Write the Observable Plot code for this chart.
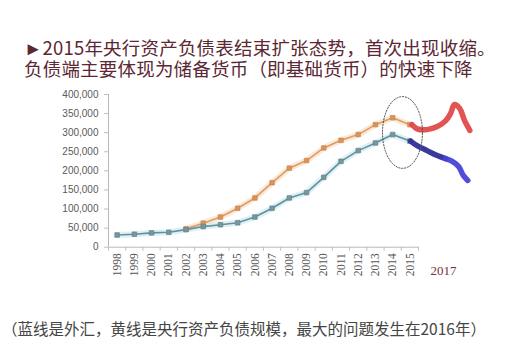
<!DOCTYPE html>
<html>
<head>
<meta charset="utf-8">
<script src="https://cdn.jsdelivr.net/npm/d3@7"></script>
<script src="https://cdn.jsdelivr.net/npm/@observablehq/plot@0.6"></script>
<style>
  html, body { margin: 0; padding: 0; background: #fff; }
  #wrap { position: relative; width: 519px; height: 352px; overflow: hidden; }
  .title { position: absolute; left: 24px; font-family: "Noto Sans CJK SC", sans-serif; font-size: 18.5px; line-height: 20px; height: 20px; color: #5c2834; white-space: nowrap; letter-spacing: 0.2px; }
  #t1 { top: 37px; }
  #t2 { top: 58px; }
  #chart { position: absolute; left: 0; top: 80px; }
  #caption { position: absolute; left: 2px; top: 318px; font-family: "Noto Sans CJK SC", sans-serif; font-size: 15.5px; line-height: 20px; color: #454545; white-space: nowrap; }
</style>
</head>
<body>
<div id="wrap">
  <div class="title" id="t1">►2015年央行资产负债表结束扩张态势，首次出现收缩。</div>
  <div class="title" id="t2">负债端主要体现为储备货币（即基础货币）的快速下降</div>
  <div id="chart"></div>
  <div id="caption">（蓝线是外汇，黄线是央行资产负债规模，最大的问题发生在2016年）</div>
</div>
<script>
// Years (categories)
const years = [1998, 1999, 2000, 2001, 2002, 2003, 2004, 2005, 2006, 2007, 2008, 2009, 2010, 2011, 2012, 2013, 2014, 2015];
// Blue line: foreign exchange (外汇)
const fxValues = [32000, 34000, 37500, 39000, 46000, 54000, 59000, 64000, 79000, 102000, 129000, 143000, 183000, 225000, 253000, 273000, 295000, 278000];
// Orange line: central bank balance sheet (央行资产负债规模), from 2002
const bsYears = [2002, 2003, 2004, 2005, 2006, 2007, 2008, 2009, 2010, 2011, 2012, 2013, 2014, 2015];
const bsValues = [48000, 63000, 79000, 102000, 129000, 169000, 207000, 227000, 260000, 280000, 295000, 321000, 339000, 321000];
// Hand-drawn red extension
const redX = [2015.13, 2015.42, 2016.0, 2016.59, 2017.07, 2017.36, 2017.59, 2017.9, 2018.17, 2018.48];
const redY = [320700, 310000, 308000, 316000, 331000, 350000, 374000, 363000, 332000, 306000];
// Hand-drawn blue extension: dark part, then bright part
const blueDarkX = [2015.04, 2015.42, 2016.0, 2016.59, 2017.07];
const blueDarkY = [278000, 266000, 253000, 240000, 232000];
const blueBrightX = [2017.07, 2017.46, 2017.84, 2018.1, 2018.36];
const blueBrightY = [232000, 225000, 211000, 188000, 175000];
// Y tick values
const yTicks = [0, 50000, 100000, 150000, 200000, 250000, 300000, 350000, 400000];
// Annotation label
const noteLabel = ["2017"];
const noteX = [2016.95];
// Dotted ellipse (center and radii in data units)
const ellipseCenter = [2014.57, 300500];
const ellipseRadius = [1.16, 94000];

const fx = years.map((y, i) => ({year: y, value: fxValues[i]}));
const bs = bsYears.map((y, i) => ({year: y, value: bsValues[i]}));
const red = redX.map((x, i) => ({year: x, value: redY[i]}));
const blueDark = blueDarkX.map((x, i) => ({year: x, value: blueDarkY[i]}));
const blueBright = blueBrightX.map((x, i) => ({year: x, value: blueBrightY[i]}));
const bounds = years.map(y => y - 0.5).concat([years[years.length - 1] + 0.5]);
const ell = d3.range(0, 73).map(k => {
  const t = (k / 72) * 2 * Math.PI;
  return {year: ellipseCenter[0] + ellipseRadius[0] * Math.cos(t), value: ellipseCenter[1] + ellipseRadius[1] * Math.sin(t)};
});

const x0 = years[0] - 0.5, x1 = years[years.length - 1] + 0.5;

const chart = Plot.plot({
  width: 519,
  height: 205,
  marginLeft: 108,
  marginRight: 101,
  marginTop: 14,
  marginBottom: 38.3,
  x: {type: "linear", domain: [x0, x1]},
  y: {domain: [0, 400000]},
  style: {background: "transparent", overflow: "visible"},
  marks: [
    // axes
    Plot.ruleX([x0], {y1: 0, y2: 400000, stroke: "#b8b8b8", strokeWidth: 1}),
    Plot.ruleY([0], {x1: x0, x2: x1, stroke: "#b8b8b8", strokeWidth: 1}),
    Plot.axisY({ticks: yTicks, tickFormat: d3.format(","), tickSize: 4, tickPadding: 6, stroke: "#c0c0c0", fill: "#5a5a5a", fontSize: 10, fontFamily: "Liberation Sans, Arial, sans-serif", label: null}),
    Plot.axisX({ticks: bounds, tickFormat: () => "", tickSize: 4, stroke: "#c0c0c0", label: null}),
    Plot.axisX({ticks: years, tickFormat: d => String(d), tickSize: 0, tickPadding: 6, tickRotate: -90, fill: "#555", fontSize: 11.5, fontFamily: "Liberation Serif, Times New Roman, serif", label: null}),
    // soft glow behind lines
    Plot.line(bs, {x: "year", y: "value", stroke: "#f3cda8", strokeWidth: 6, strokeOpacity: 0.45}),
    Plot.line(fx, {x: "year", y: "value", stroke: "#bfe0ea", strokeWidth: 6, strokeOpacity: 0.5}),
    // lines
    Plot.line(bs, {x: "year", y: "value", stroke: "#e09c5e", strokeWidth: 1.6}),
    Plot.line(fx, {x: "year", y: "value", stroke: "#5f93a2", strokeWidth: 1.6}),
    Plot.dot(bs, {x: "year", y: "value", symbol: "square", r: 2.6, fill: "#d9925a", stroke: "#c98550", strokeWidth: 0.6}),
    Plot.dot(fx, {x: "year", y: "value", symbol: "square", r: 2.6, fill: "#77979f", stroke: "#5e7f88", strokeWidth: 0.6}),
    // hand-drawn extensions
    Plot.line(red, {x: "year", y: "value", curve: "catmull-rom", stroke: "#e04444", strokeWidth: 5.5, strokeOpacity: 0.92, strokeLinecap: "round", strokeLinejoin: "round"}),
    Plot.line(blueDark, {x: "year", y: "value", curve: "catmull-rom", stroke: "#2f2f98", strokeWidth: 5.5, strokeOpacity: 0.95, strokeLinecap: "round", strokeLinejoin: "round"}),
    Plot.line(blueBright, {x: "year", y: "value", curve: "catmull-rom", stroke: "#4444d8", strokeWidth: 5.5, strokeOpacity: 0.95, strokeLinecap: "round", strokeLinejoin: "round"}),
    // dotted ellipse
    Plot.line(ell, {x: "year", y: "value", stroke: "#555", strokeWidth: 1, strokeDasharray: "1.3,1.6", curve: "linear"}),
    // 2017 label
    Plot.text(noteLabel, {x: noteX, y: 0, text: d => d, dy: 24, fill: "#7a2f3a", fontSize: 13, fontFamily: "Liberation Serif, Times New Roman, serif"})
  ]
});
document.getElementById("chart").appendChild(chart);
</script>
</body>
</html>
